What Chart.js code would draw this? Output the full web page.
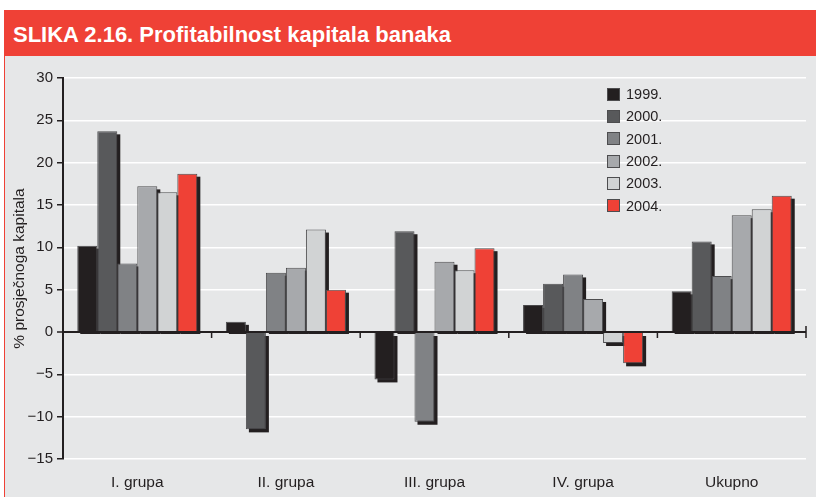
<!DOCTYPE html>
<html lang="hr">
<head>
  <meta charset="UTF-8">
  <title>Profitabilnost kapitala banaka</title>
  <script src="https://cdn.jsdelivr.net/npm/chart.js"></script>
  <style>
    body {
      margin: 0;
      background: #fff;
      font-family: "Liberation Sans", Arial, sans-serif;
      color: #231f20;
    }

    .header {
      position: absolute;
      left: 4px;
      top: 10px;
      width: 812px;
      height: 46px;
      background: #ef4136;
    }

    .header span {
      position: absolute;
      left: 9px;
      top: 2px;
      line-height: 46px;
      font-size: 22px;
      font-weight: bold;
      color: #fff;
      white-space: nowrap;
    }

    .panel {
      position: absolute;
      left: 4px;
      top: 56px;
      width: 812px;
      height: 441px;
      background: #e6e7e8;
      border-left: 1.5px solid #ef4136;
      box-sizing: border-box;
    }

    #chartBox {
      position: absolute;
      left: 6px;
      top: 56px;
    }

    .legend {
      position: absolute;
      left: 607px;
      top: 83px;
      font-size: 14.5px;
    }

    .legend div {
      height: 22.3px;
      display: flex;
      align-items: center;
    }

    .legend i {
      display: inline-block;
      width: 13px;
      height: 13px;
      border: 1px solid #4d4d4f;
      box-sizing: border-box;
      margin-right: 6px;
    }
  </style>
</head>
<body>

  <div class="header"><span>SLIKA 2.16. Profitabilnost kapitala banaka</span></div>
  <div class="panel"></div>

  <canvas id="chartBox" width="810" height="441"></canvas>
  <div class="legend" id="legend"></div>

  <script>
    // data
    const categories = ['I. grupa', 'II. grupa', 'III. grupa', 'IV. grupa', 'Ukupno'];
    const years = ['1999.', '2000.', '2001.', '2002.', '2003.', '2004.'];
    const v1999 = [10.2, 1.2, -5.6, 3.2, 4.8];
    const v2000 = [23.7, -11.5, 11.9, 5.7, 10.7];
    const v2001 = [8.1, 7.0, -10.6, 6.8, 6.6];
    const v2002 = [17.2, 7.6, 8.3, 3.9, 13.8];
    const v2003 = [16.5, 12.1, 7.3, -1.3, 14.5];
    const v2004 = [18.7, 5.0, 9.9, -3.7, 16.1];
    const yTicks = [-15, -10, -5, 0, 5, 10, 15, 20, 25, 30];

    const series = [v1999, v2000, v2001, v2002, v2003, v2004];
    const colors = ['#231f20', '#58595b', '#808285', '#a7a9ac', '#d1d3d4', '#ef4136'];

    // legend
    const legend = document.getElementById('legend');
    years.forEach((y, i) => {
      const row = document.createElement('div');
      row.innerHTML = '<i style="background:' + colors[i] + '"></i>' + y;
      legend.appendChild(row);
    });

    // small ticks on the zero line between groups
    const zeroTicks = {
      id: 'zeroTicks',
      beforeDatasetsDraw(chart) {
        const ctx = chart.ctx;
        const x = chart.scales.x;
        const y0 = chart.scales.y.getPixelForValue(0);
        ctx.save();
        ctx.strokeStyle = '#231f20';
        ctx.lineWidth = 1.5;
        for (let i = 1; i <= categories.length; i++) {
          const px = i < categories.length
            ? (x.getPixelForValue(i - 1) + x.getPixelForValue(i)) / 2
            : chart.chartArea.right;
          ctx.beginPath();
          ctx.moveTo(px, i < categories.length ? y0 : y0 - 6);
          ctx.lineTo(px, y0 + 6);
          ctx.stroke();
        }
        ctx.restore();
      }
    };

    // dark drop shadow behind each bar, offset down and right
    const barShadow = {
      id: 'barShadow',
      beforeDatasetsDraw(chart) {
        const ctx = chart.ctx;
        ctx.save();
        ctx.fillStyle = '#231f20';
        chart.data.datasets.forEach((ds, i) => {
          chart.getDatasetMeta(i).data.forEach(bar => {
            const p = bar.getProps(['x', 'y', 'base', 'width'], true);
            const top = Math.min(p.y, p.base);
            const h = Math.abs(p.base - p.y);
            ctx.fillRect(p.x - p.width / 2 + 3, top + 3, p.width, h);
          });
        });
        ctx.restore();
      }
    };

    const font = { family: '"Liberation Sans", Arial, sans-serif' };

    new Chart(document.getElementById('chartBox'), {
      type: 'bar',
      data: {
        labels: categories,
        datasets: years.map((y, i) => ({
          label: y,
          data: series[i],
          backgroundColor: colors[i],
          borderColor: '#4d4d4f',
          borderWidth: 1,
          categoryPercentage: 0.808,
          barPercentage: 1
        }))
      },
      options: {
        responsive: false,
        animation: false,
        devicePixelRatio: 1,
        layout: { padding: { top: 22, right: 10, left: 0, bottom: 0 } },
        plugins: {
          legend: { display: false },
          tooltip: { enabled: false }
        },
        scales: {
          x: {
            grid: { display: false },
            border: { display: false },
            ticks: {
              color: '#231f20',
              padding: 6,
              font: { ...font, size: 15.5 }
            },
            afterFit(scale) { scale.height = 38; }
          },
          y: {
            min: -15,
            max: 30,
            afterBuildTicks(scale) {
              scale.ticks = yTicks.map(v => ({ value: v }));
            },
            afterFit(scale) { scale.width = 57; },
            border: { display: true, color: '#231f20', width: 2 },
            grid: {
              color: c => c.tick && c.tick.value === 0 ? '#231f20' : '#ffffff',
              lineWidth: c => c.tick && c.tick.value === 0 ? 2 : 1.5,
              tickColor: '#231f20',
              tickLength: 6,
              tickWidth: 1.5
            },
            ticks: {
              color: '#231f20',
              padding: 4,
              font: { ...font, size: 15 },
              callback: v => v < 0 ? '\u2212' + Math.abs(v) : v
            },
            title: {
              display: true,
              text: '% prosječnoga kapitala',
              color: '#231f20',
              padding: { top: 4, bottom: 0 },
              font: { ...font, size: 15.5 }
            }
          }
        }
      },
      plugins: [zeroTicks, barShadow]
    });
  </script>

</body>
</html>
